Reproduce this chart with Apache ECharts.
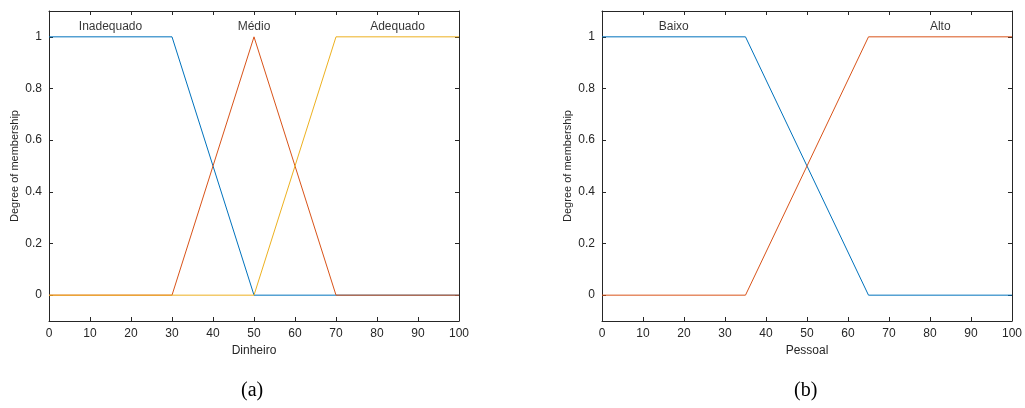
<!DOCTYPE html>
<html><head><meta charset="utf-8">
<script src="https://cdn.jsdelivr.net/npm/echarts@6/dist/echarts.min.js"></script>
<style>html,body{margin:0;padding:0;background:#fff}#c{width:1025px;height:408px}</style>
</head><body><div id="c"></div>
<script>
// Chart (a): Dinheiro
const inadequado = [[0,1],[30,1],[50,0],[100,0]];
const medio = [[0,0],[30,0],[50,1],[70,0],[100,0]];
const adequado = [[0,0],[50,0],[70,1],[100,1]];
const labelsA = [["Inadequado",15,1.04],["Médio",50,1.04],["Adequado",85,1.04]];
// Chart (b): Pessoal
const baixo = [[0,1],[35,1],[65,0],[100,0]];
const alto = [[0,0],[35,0],[65,1],[100,1]];
const labelsB = [["Baixo",17.5,1.04],["Alto",82.5,1.04]];
const yTicks = [0,0.2,0.4,0.6,0.8,1];
const yTickLabels = ["0","0.2","0.4","0.6","0.8","1"];

const BLUE='#0072BD', ORANGE='#D95319', YELLOW='#EDB120', AX='#262626';
const FONT='Liberation Sans';
const chart = echarts.init(document.getElementById('c'));

function xAxes(gi, name){
  return [{
    type:'value', gridIndex:gi, min:0, max:100, interval:10, position:'bottom',
    name:name, nameLocation:'middle', nameGap:23,
    nameTextStyle:{color:AX,fontSize:12,fontFamily:FONT},
    axisLine:{show:true,onZero:false,lineStyle:{color:AX,width:1}},
    axisTick:{show:true,inside:true,length:4,lineStyle:{color:AX}},
    axisLabel:{color:AX,fontSize:12,fontFamily:FONT,margin:7},
    splitLine:{show:false}
  },{
    type:'value', gridIndex:gi, min:0, max:100, interval:10, position:'top',
    axisLine:{show:true,onZero:false,lineStyle:{color:AX,width:1}},
    axisTick:{show:true,inside:true,length:4,lineStyle:{color:AX}},
    axisLabel:{show:false}, splitLine:{show:false}
  }];
}
function yAxes(gi){
  return [{
    type:'value', gridIndex:gi, min:-0.1, max:1.1, position:'left',
    name:'Degree of membership', nameLocation:'middle', nameGap:29, nameRotate:90,
    nameTextStyle:{color:AX,fontSize:11,fontFamily:FONT},
    axisLine:{show:true,onZero:false,lineStyle:{color:AX,width:1}},
    axisTick:{show:true,inside:true,length:4,customValues:yTicks,lineStyle:{color:AX}},
    axisLabel:{color:AX,fontSize:12,fontFamily:FONT,margin:7,customValues:yTicks,
      formatter:v=>{const i=yTicks.findIndex(t=>Math.abs(t-v)<1e-9);return i>=0?yTickLabels[i]:'';}},
    splitLine:{show:false}
  },{
    type:'value', gridIndex:gi, min:-0.1, max:1.1, position:'right',
    axisLine:{show:true,onZero:false,lineStyle:{color:AX,width:1}},
    axisTick:{show:true,inside:true,length:4,customValues:yTicks,lineStyle:{color:AX}},
    axisLabel:{show:false}, splitLine:{show:false}
  }];
}
function lineS(data,color,xi,yi){
  return {type:'line',data:data,xAxisIndex:xi,yAxisIndex:yi,symbol:'none',
    lineStyle:{color:color,width:1},itemStyle:{color:color},silent:true,animation:false};
}
function labelS(labels,xi,yi){
  return {type:'scatter',xAxisIndex:xi,yAxisIndex:yi,symbolSize:0,silent:true,animation:false,
    data:labels.map(l=>({name:l[0],value:[l[1],l[2]]})),
    label:{show:true,position:'inside',formatter:p=>p.name,color:'#000',fontSize:12,fontFamily:FONT}};
}

chart.setOption({
  animation:false,
  backgroundColor:'#fff',
  grid:[{left:49,right:566,top:11,bottom:87},{left:602,right:12,top:11,bottom:87}],
  xAxis:[...xAxes(0,'Dinheiro'),...xAxes(1,'Pessoal')],
  yAxis:[...yAxes(0),...yAxes(1)],
  series:[
    lineS(inadequado,BLUE,0,0),
    lineS(medio,ORANGE,0,0),
    lineS(adequado,YELLOW,0,0),
    labelS(labelsA,0,0),
    lineS(baixo,BLUE,2,2),
    lineS(alto,ORANGE,2,2),
    labelS(labelsB,2,2)
  ],
  graphic:[
    {type:'text',left:254-13,top:381,style:{text:'(a)',font:'20px "Liberation Serif"',fill:'#000'}},
    {type:'text',left:807-13,top:381,style:{text:'(b)',font:'20px "Liberation Serif"',fill:'#000'}}
  ]
});
</script></body></html>
